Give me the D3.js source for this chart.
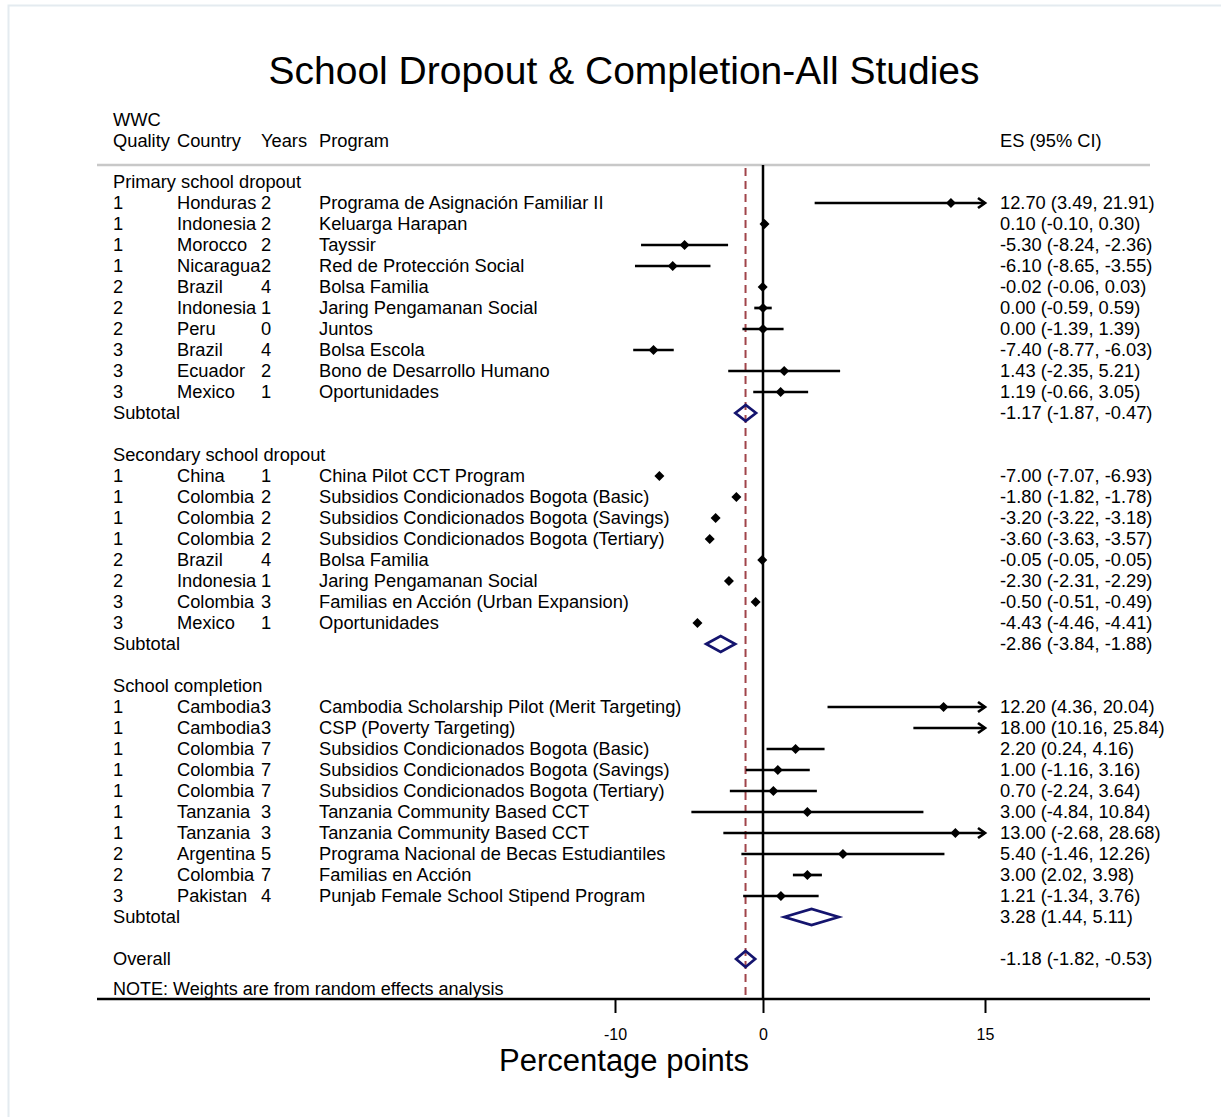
<!DOCTYPE html>
<html>
<head>
<meta charset="utf-8">
<script src="https://cdn.jsdelivr.net/npm/d3@7"></script>
<style>
  body { margin: 0; background: #fff; }
  svg text { font-family: "Liberation Sans", Arial, Helvetica, sans-serif; fill: #000; }
</style>
</head>
<body>
<div id="chart"></div>
<script>
// constants
const width = 1221;
const height = 1117;
const title = 'School Dropout & Completion-All Studies';
const xTitle = 'Percentage points';
const xTicks = [-10, 0, 15];
const xDomain = [-10, 15];
const overallES = -1.18;

// each study: [quality, country, years, program, es, lower, upper]
const primaryStudies = [
  ['1', 'Honduras', '2', 'Programa de Asignación Familiar II', 12.70, 3.49, 21.91],
  ['1', 'Indonesia', '2', 'Keluarga Harapan', 0.10, -0.10, 0.30],
  ['1', 'Morocco', '2', 'Tayssir', -5.30, -8.24, -2.36],
  ['1', 'Nicaragua', '2', 'Red de Protección Social', -6.10, -8.65, -3.55],
  ['2', 'Brazil', '4', 'Bolsa Familia', -0.02, -0.06, 0.03],
  ['2', 'Indonesia', '1', 'Jaring Pengamanan Social', 0.00, -0.59, 0.59],
  ['2', 'Peru', '0', 'Juntos', 0.00, -1.39, 1.39],
  ['3', 'Brazil', '4', 'Bolsa Escola', -7.40, -8.77, -6.03],
  ['3', 'Ecuador', '2', 'Bono de Desarrollo Humano', 1.43, -2.35, 5.21],
  ['3', 'Mexico', '1', 'Oportunidades', 1.19, -0.66, 3.05]
];
const secondaryStudies = [
  ['1', 'China', '1', 'China Pilot CCT Program', -7.00, -7.07, -6.93],
  ['1', 'Colombia', '2', 'Subsidios Condicionados Bogota (Basic)', -1.80, -1.82, -1.78],
  ['1', 'Colombia', '2', 'Subsidios Condicionados Bogota (Savings)', -3.20, -3.22, -3.18],
  ['1', 'Colombia', '2', 'Subsidios Condicionados Bogota (Tertiary)', -3.60, -3.63, -3.57],
  ['2', 'Brazil', '4', 'Bolsa Familia', -0.05, -0.05, -0.05],
  ['2', 'Indonesia', '1', 'Jaring Pengamanan Social', -2.30, -2.31, -2.29],
  ['3', 'Colombia', '3', 'Familias en Acción (Urban Expansion)', -0.50, -0.51, -0.49],
  ['3', 'Mexico', '1', 'Oportunidades', -4.43, -4.46, -4.41]
];
const completionStudies = [
  ['1', 'Cambodia', '3', 'Cambodia Scholarship Pilot (Merit Targeting)', 12.20, 4.36, 20.04],
  ['1', 'Cambodia', '3', 'CSP (Poverty Targeting)', 18.00, 10.16, 25.84],
  ['1', 'Colombia', '7', 'Subsidios Condicionados Bogota (Basic)', 2.20, 0.24, 4.16],
  ['1', 'Colombia', '7', 'Subsidios Condicionados Bogota (Savings)', 1.00, -1.16, 3.16],
  ['1', 'Colombia', '7', 'Subsidios Condicionados Bogota (Tertiary)', 0.70, -2.24, 3.64],
  ['1', 'Tanzania', '3', 'Tanzania Community Based CCT', 3.00, -4.84, 10.84],
  ['1', 'Tanzania', '3', 'Tanzania Community Based CCT', 13.00, -2.68, 28.68],
  ['2', 'Argentina', '5', 'Programa Nacional de Becas Estudiantiles', 5.40, -1.46, 12.26],
  ['2', 'Colombia', '7', 'Familias en Acción', 3.00, 2.02, 3.98],
  ['3', 'Pakistan', '4', 'Punjab Female School Stipend Program', 1.21, -1.34, 3.76]
];
const groupNames = ['Primary school dropout', 'Secondary school dropout', 'School completion'];
// pooled: [es, lower, upper]
const subtotals = [[-1.17, -1.87, -0.47], [-2.86, -3.84, -1.88], [3.28, 1.44, 5.11]];
const overall = [-1.18, -1.82, -0.53];

// build rows: headers, studies, subtotals, blanks
const rows = [];
[primaryStudies, secondaryStudies, completionStudies].forEach((studies, g) => {
  rows.push({ type: 'header', label: groupNames[g] });
  studies.forEach(s => rows.push({ type: 'study', q: s[0], country: s[1], years: s[2], program: s[3], es: s[4], lo: s[5], hi: s[6] }));
  rows.push({ type: 'pooled', label: 'Subtotal', es: subtotals[g][0], lo: subtotals[g][1], hi: subtotals[g][2] });
  rows.push({ type: 'blank' });
});
rows.push({ type: 'pooled', label: 'Overall', es: overall[0], lo: overall[1], hi: overall[2] });
rows.forEach((r, i) => r.i = i);

// stata style numbers, plain hyphen for minus
const fmt = v => v.toFixed(2);
const ciText = r => `${fmt(r.es)} (${fmt(r.lo)}, ${fmt(r.hi)})`;

// svg
const svg = d3.select('#chart')
  .append('svg')
  .attr('width', width)
  .attr('height', height);

// outer frame
svg.append('rect')
  .attr('x', 8.5).attr('y', 5.5)
  .attr('width', 1400).attr('height', 1400)
  .attr('fill', 'none')
  .attr('stroke', '#e4ebf0')
  .attr('stroke-width', 2);

// scales
const xScale = d3.scaleLinear().domain(xDomain).range([615, 985]);
const yScale = d3.scaleLinear().domain([0, 37]).range([182, 959]);

const left = 97, right = 1150;
const topLine = 165, axisY = 999;
const fontSize = 18.3;

// title
svg.append('text')
  .attr('x', 624).attr('y', 70)
  .attr('dy', '0.35em')
  .attr('text-anchor', 'middle')
  .attr('font-size', 39)
  .text(title);

// column headers
svg.append('text').attr('x', 113).attr('y', 120).attr('dy', '0.35em').attr('font-size', fontSize).text('WWC');
const cols = [[113, 'Quality'], [177, 'Country'], [261, 'Years'], [319, 'Program'], [1000, 'ES (95% CI)']];
svg.selectAll('text.colhead')
  .data(cols)
  .enter()
  .append('text')
  .attr('class', 'colhead')
  .attr('x', d => d[0]).attr('y', 141)
  .attr('dy', '0.35em')
  .attr('font-size', fontSize)
  .text(d => d[1]);

// separator under header
svg.append('line')
  .attr('x1', left).attr('x2', right)
  .attr('y1', topLine).attr('y2', topLine)
  .attr('stroke', '#c8c8c8').attr('stroke-width', 2.5);

// zero line and overall dashed line
svg.append('line')
  .attr('x1', xScale(0)).attr('x2', xScale(0))
  .attr('y1', topLine).attr('y2', axisY)
  .attr('stroke', '#000').attr('stroke-width', 2.5);
svg.append('line')
  .attr('x1', xScale(overallES)).attr('x2', xScale(overallES))
  .attr('y1', topLine + 3).attr('y2', axisY)
  .attr('stroke', '#a0444a').attr('stroke-width', 2)
  .attr('stroke-dasharray', '8,5');

// row text
const textRows = svg.append('g');
rows.forEach(r => {
  const y = yScale(r.i);
  const add = (x, t) => textRows.append('text').attr('x', x).attr('y', y).attr('dy', '0.35em').attr('font-size', fontSize).text(t);
  if (r.type === 'header') add(113, r.label);
  if (r.type === 'study') {
    add(113, r.q);
    add(177, r.country);
    add(261, r.years);
    add(319, r.program);
    add(1000, ciText(r));
  }
  if (r.type === 'pooled') {
    add(113, r.label);
    add(1000, ciText(r));
  }
});

// CI lines
const studies = rows.filter(r => r.type === 'study');
const [xmin, xmax] = xDomain;
svg.selectAll('line.ci')
  .data(studies)
  .enter()
  .append('line')
  .attr('class', 'ci')
  .attr('x1', d => xScale(Math.max(d.lo, xmin)))
  .attr('x2', d => xScale(Math.min(d.hi, xmax)))
  .attr('y1', d => yScale(d.i))
  .attr('y2', d => yScale(d.i))
  .attr('stroke', '#000')
  .attr('stroke-width', 2.7);

// arrows for clipped CIs
svg.selectAll('path.arrow')
  .data(studies.filter(d => d.hi > xmax))
  .enter()
  .append('path')
  .attr('class', 'arrow')
  .attr('d', d => {
    const x = xScale(xmax), y = yScale(d.i);
    return `M${x - 7},${y - 5}L${x},${y}L${x - 7},${y + 5}`;
  })
  .attr('fill', 'none')
  .attr('stroke', '#000')
  .attr('stroke-width', 2.7);

// point estimates
svg.selectAll('path.point')
  .data(studies.filter(d => d.es >= xmin && d.es <= xmax))
  .enter()
  .append('path')
  .attr('class', 'point')
  .attr('d', d => {
    const x = xScale(d.es), y = yScale(d.i), s = 5;
    return `M${x - s},${y}L${x},${y - s}L${x + s},${y}L${x},${y + s}Z`;
  })
  .attr('fill', '#000');

// pooled diamonds
svg.selectAll('path.pooled')
  .data(rows.filter(r => r.type === 'pooled'))
  .enter()
  .append('path')
  .attr('class', 'pooled')
  .attr('d', d => {
    const y = yScale(d.i), h = 8;
    return `M${xScale(d.lo)},${y}L${xScale(d.es)},${y - h}L${xScale(d.hi)},${y}L${xScale(d.es)},${y + h}Z`;
  })
  .attr('fill', 'none')
  .attr('stroke', '#14146e')
  .attr('stroke-width', 2.7);

// note
svg.append('text')
  .attr('x', 113).attr('y', 989)
  .attr('dy', '0.35em')
  .attr('font-size', 18)
  .text('NOTE: Weights are from random effects analysis');

// x axis
svg.append('line')
  .attr('x1', left).attr('x2', right)
  .attr('y1', axisY).attr('y2', axisY)
  .attr('stroke', '#000').attr('stroke-width', 2.5);

const xAxis = svg.append('g')
  .attr('transform', `translate(0,${axisY})`)
  .call(d3.axisBottom(xScale).tickValues(xTicks).tickSize(14).tickPadding(16).tickFormat(d => String(d)));
xAxis.select('.domain').remove();
xAxis.selectAll('.tick line').attr('stroke', '#000').attr('stroke-width', 2);
xAxis.selectAll('.tick text')
  .attr('font-size', 16)
  .attr('font-family', '"Liberation Sans", Arial, sans-serif')
  .attr('fill', '#000');

svg.append('text')
  .attr('x', 624).attr('y', 1060)
  .attr('dy', '0.35em')
  .attr('text-anchor', 'middle')
  .attr('font-size', 31)
  .text(xTitle);
</script>
</body>
</html>
